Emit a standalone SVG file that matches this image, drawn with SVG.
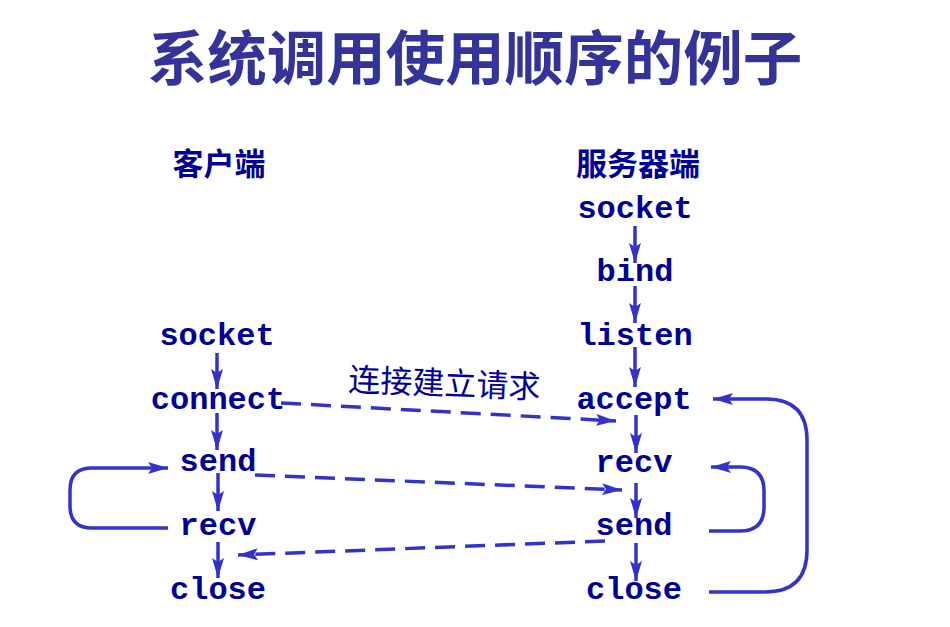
<svg xmlns="http://www.w3.org/2000/svg" width="950" height="627" viewBox="0 0 950 627">
<defs>
<marker id="arr" viewBox="0 0 20 12" refX="20" refY="6" markerWidth="20" markerHeight="12" markerUnits="userSpaceOnUse" orient="auto">
<path d="M0,0 L20,6 L0,12 L4,6 Z" fill="#3333CC"/>
</marker>
<style>
.t{font-family:"Liberation Mono","Courier New",monospace;font-weight:bold;font-size:32px;fill:#000099;text-anchor:middle}
.h{font-family:"Noto Sans CJK SC","Noto Sans",sans-serif;font-weight:bold;font-size:31px;fill:#000099;text-anchor:middle}
.c{fill:none;stroke:#3333CC;stroke-width:3.5}
.d{fill:none;stroke:#3333CC;stroke-width:3.5;stroke-dasharray:20 10}
</style>
</defs>
<rect width="950" height="627" fill="#ffffff"/>
<text x="475" y="80" style="font-family:'Noto Sans CJK SC','Noto Sans',sans-serif;font-weight:bold;font-size:59.5px;fill:#333399;text-anchor:middle">系统调用使用顺序的例子</text>
<g id="client-header"><text class="h" x="219" y="175">客户端</text></g>
<g id="server-header"><text class="h" x="638" y="175">服务器端</text></g>
<g id="c-socket"><text class="t" x="217" y="345">socket</text></g>
<g id="c-connect"><text class="t" x="218" y="409">connect</text></g>
<g id="c-send"><text class="t" x="218" y="471">send</text></g>
<g id="c-recv"><text class="t" x="218" y="535">recv</text></g>
<g id="c-close"><text class="t" x="218" y="599">close</text></g>
<g id="s-socket"><text class="t" x="635" y="218">socket</text></g>
<g id="s-bind"><text class="t" x="635" y="281">bind</text></g>
<g id="s-listen"><text class="t" x="635" y="345">listen</text></g>
<g id="s-accept"><text class="t" x="634" y="409">accept</text></g>
<g id="s-recv"><text class="t" x="634" y="472">recv</text></g>
<g id="s-send"><text class="t" x="634" y="535">send</text></g>
<g id="s-close"><text class="t" x="634" y="599">close</text></g>
<g id="label"><text x="348" y="391" transform="rotate(2.2 348 391)" style="font-family:'Noto Sans CJK SC','Noto Sans',sans-serif;font-size:32px;fill:#000099">连接建立请求</text></g>
<g id="connectors">
<line class="c" x1="217" y1="353" x2="217" y2="389" marker-end="url(#arr)"/>
<line class="c" x1="217" y1="413" x2="217" y2="450" marker-end="url(#arr)"/>
<line class="c" x1="218" y1="473" x2="218" y2="511" marker-end="url(#arr)"/>
<line class="c" x1="218" y1="542" x2="218" y2="578" marker-end="url(#arr)"/>
<line class="c" x1="635" y1="226" x2="635" y2="263" marker-end="url(#arr)"/>
<line class="c" x1="635" y1="286" x2="635" y2="323" marker-end="url(#arr)"/>
<line class="c" x1="635" y1="347" x2="635" y2="387" marker-end="url(#arr)"/>
<line class="c" x1="636" y1="415" x2="636" y2="453" marker-end="url(#arr)"/>
<line class="c" x1="636" y1="483" x2="636" y2="518" marker-end="url(#arr)"/>
<line class="c" x1="636" y1="543" x2="636" y2="581" marker-end="url(#arr)"/>
<path class="c" d="M168,528 L92,528 Q70,528 70,506 L70,490 Q70,468 92,468 L168,468" marker-end="url(#arr)"/>
<path class="c" d="M709,531 L740,531 Q764,531 764,507 L764,491 Q764,467 740,467 L711,467" marker-end="url(#arr)"/>
<path class="c" d="M709,592 L765,592 Q807,592 807,550 L807,440 Q807,399 766,399 L713,399" marker-end="url(#arr)"/>
<line class="d" x1="281" y1="403" x2="616" y2="421" marker-end="url(#arr)"/>
<line class="d" x1="255" y1="475" x2="622" y2="490" marker-end="url(#arr)"/>
<line class="d" x1="605" y1="541" x2="238" y2="555" marker-end="url(#arr)"/>
</g>
</svg>
